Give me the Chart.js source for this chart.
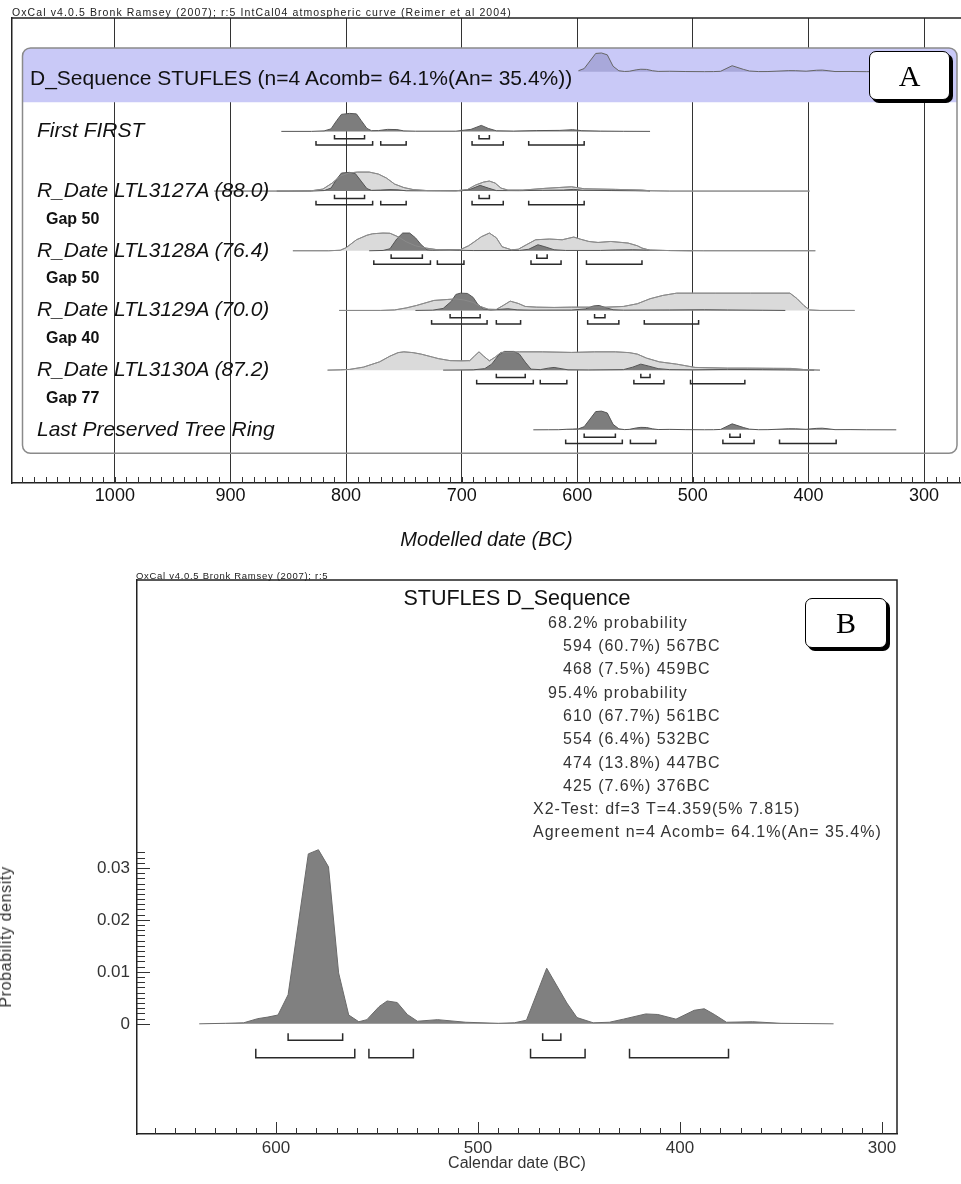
<!DOCTYPE html>
<html><head><meta charset="utf-8">
<script src="https://cdn.jsdelivr.net/npm/chart.js@4.4.0/dist/chart.umd.min.js"></script>
<style>
html,body{margin:0;padding:0;background:#fff;width:961px;height:1184px;overflow:hidden;}
body{position:relative;font-family:'Liberation Sans',Arial,sans-serif;}
canvas{position:absolute;left:0;}
#cA{top:0;} #cB{top:560px;}
.t{position:absolute;white-space:nowrap;color:#111;}
.row{font-size:21px;line-height:24px;font-style:italic;}
.seq{font-size:21px;line-height:24px;}
.gap{font-size:16px;line-height:20px;font-weight:bold;}
.hdr{font-size:10.5px;line-height:12px;letter-spacing:1.1px;color:#222;}
.hdrb{font-size:9.5px;line-height:12px;letter-spacing:0.7px;color:#222;}
.ttl{font-size:21.5px;line-height:24px;color:#111;}
.stat{font-size:16px;line-height:20px;letter-spacing:1px;color:#333;}
.ylab{font-size:16px;line-height:16px;letter-spacing:0.6px;color:#333;}
.box{position:absolute;box-sizing:border-box;background:#fff;border:1.5px solid #000;border-radius:7px;box-shadow:3px 3px 0 #000;font-family:'Liberation Serif','Times New Roman',serif;font-size:30px;display:flex;align-items:center;justify-content:center;color:#000;}
</style></head><body>
<canvas id="cA" width="961" height="560"></canvas>
<canvas id="cB" width="961" height="624"></canvas>
<div id="overlay"></div>
<script>
const FONT = "'Liberation Sans', Arial, sans-serif";
Chart.defaults.font.family = FONT;

// ================= DATA =================
const xTicksA = [1000, 900, 800, 700, 600, 500, 400, 300];
const xTicksB = [600, 500, 400, 300];
const yTicksB = [0, 0.01, 0.02, 0.03];
const yTickLabelsB = ['0', '0.01', '0.02', '0.03'];

const headerA = 'OxCal v4.0.5 Bronk Ramsey (2007); r:5 IntCal04 atmospheric curve (Reimer et al 2004)';
const headerB = 'OxCal v4.0.5 Bronk Ramsey (2007); r:5';
const sequenceTitle = 'D_Sequence STUFLES (n=4 Acomb= 64.1%(An= 35.4%))';
const rowLabels = ['First FIRST', 'R_Date LTL3127A (88.0)', 'R_Date LTL3128A (76.4)',
  'R_Date LTL3129A (70.0)', 'R_Date LTL3130A (87.2)', 'Last Preserved Tree Ring'];
const gapLabels = ['Gap 50', 'Gap 50', 'Gap 40', 'Gap 77'];
const titleB = 'STUFLES D_Sequence';
const statLines = ['68.2% probability', '594 (60.7%) 567BC', '468 (7.5%) 459BC', '95.4% probability',
  '610 (67.7%) 561BC', '554 (6.4%) 532BC', '474 (13.8%) 447BC', '425 (7.6%) 376BC',
  'X2-Test: df=3 T=4.359(5% 7.815)', 'Agreement n=4 Acomb= 64.1%(An= 35.4%)'];
const statIndent = [1, 2, 2, 1, 2, 2, 2, 2, 0, 0];

// D_Sequence posterior: [year BC, probability density]
const dseqPosterior = [[638,0],[625,0.0001],[616,0.0002],[609,0.001],[604,0.0013],[599,0.0017],[594,0.0056],
  [584,0.0327],[579,0.0335],[574,0.0302],[569,0.0098],[564,0.0017],[559,0.0004],[555,0.0008],[549,0.0033],
  [545,0.0044],[540,0.0041],[535,0.0018],[530,0.0005],[520,0.0008],[506,0.0003],[490,0.0001],[482,0.0002],
  [476,0.0007],[466,0.0107],[456,0.0040],[451,0.0012],[443,0.0002],[435,0.0003],[428,0.0009],[417,0.0019],
  [411,0.0018],[402,0.0009],[393,0.0026],[388,0.0029],[383,0.0018],[377,0.0003],[364,0.0004],[350,0.0001],[324,0]];

// Panel A rows: [year BC, relative probability (peak ~19)]
const firstPost = [[856,0],[830,0],[819,0.5],[813,2.5],[808,11],[804,17],[797,18],[791,17.5],[787,11],[782,3],
  [778,0.7],[772,0.8],[764,2],[756,1.8],[750,0.5],[740,0.2],[705,0.2],[692,2],[683,6],[677,3],[670,0.6],[655,0.3],
  [635,0.8],[615,1],[604,1.7],[596,0.7],[580,0.3],[560,0.1],[537,0]];
const r27Lik = [[914,0],[850,0],[830,0.3],[820,2],[812,8],[805,15],[798,18],[790,19],[780,19],[772,17],[765,13],
  [758,7],[750,3.5],[742,1.5],[730,0.5],[705,0.3],[695,1.5],[688,6],[681,9],[676,10],[671,8],[666,3],[660,1],
  [647,1],[628,2.7],[605,4.3],[594,2.3],[567,1.7],[544,1],[537,0.3],[520,0],[399,0]];
const r27Post = [[860,0],[830,0],[819,0.5],[813,3],[808,12],[804,18],[797,18.7],[792,17.5],[787,10],[782,2.5],
  [778,0.7],[770,1],[762,1.5],[755,1.2],[748,0.3],[730,0.2],[700,0.2],[692,2],[684,5.7],[677,3],[670,0.5],
  [650,0.4],[630,0.8],[612,1],[603,1.7],[595,0.8],[570,0.5],[550,0.3],[537,0]];
const r28Lik = [[846,0],[815,0],[805,0.5],[800,3],[791,11],[782,15.5],[777,17],[768,17.7],[762,17.5],[755,14],
  [748,9],[740,5],[731,2.7],[722,1.2],[712,1],[701,1.2],[694,5],[689,9],[683,14],[676,17.7],[670,13],[665,4],
  [657,1],[651,1.5],[644,6],[636,11],[624,11.7],[613,11],[603,13.7],[597,11.5],[590,9.3],[582,8.3],[571,9.3],
  [556,7.7],[548,5],[544,2.7],[537,0.5],[520,0.2],[491,0],[394,0]];
const r28Post = [[780,0],[768,0.3],[762,2],[756,12],[751,17.7],[745,17.7],[740,13],[735,6],[730,1],[725,0.5],
  [719,0.8],[710,1],[702,0.5],[690,0.2],[650,0.3],[642,1.5],[634,6],[628,4],[620,1],[610,0.3],[580,0.3],
  [567,0.8],[552,1],[540,0.7],[520,0.2],[500,0]];
const r29Lik = [[806,0],[770,0],[758,0.5],[748,2.5],[739,5],[730,8],[724,10],[712,11],[705,11.5],[698,10.5],
  [690,8],[684,4],[677,1.2],[670,1],[664,5],[658,9.3],[651,7],[645,4],[635,3.3],[620,3],[605,3.3],[590,3.3],
  [575,3.3],[560,4],[548,6.7],[537,11.7],[526,15],[514,17.3],[480,17.3],[450,17.3],[416,17.3],[410,12],[404,5],
  [399,0.5],[390,0],[360,0]];
const r29Post = [[740,0],[725,0.3],[716,2],[709,9],[705,16],[701,17.3],[695,17],[690,13],[686,6],[681,1.5],
  [675,0.5],[666,1.2],[660,1.7],[652,0.6],[640,0.3],[605,0.4],[593,1.5],[586,4.5],[581,5],[576,3],[569,0.7],
  [560,0.3],[520,0.5],[490,0.7],[470,0.5],[440,0.2],[420,0]];
const r30Lik = [[816,0],[805,0.3],[797,0.7],[785,3],[771,8.3],[762,14],[755,17.5],[750,18.3],[742,17.5],
  [735,16],[725,13],[720,11.5],[710,9.5],[700,9.3],[693,9.5],[689,14],[685,18.3],[681,14],[676,9.3],[671,13],
  [666,17.7],[650,18.3],[630,18.3],[605,17.7],[585,18.3],[567,18.3],[555,17.5],[548,16],[540,12],[529,8.3],
  [514,6],[498,2.7],[470,2],[453,2],[430,1.8],[415,1.7],[403,0.5],[390,0]];
const r30Post = [[716,0],[690,0.3],[680,1.5],[674,6],[668,15],[663,18.7],[655,18.7],[650,16],[645,8],[640,1],
  [632,0.5],[625,2],[620,2.7],[614,1.5],[608,0.3],[590,0.2],[560,0.5],[552,3],[545,6],[538,4],[530,1.5],
  [520,0.5],[500,0.3],[470,0.7],[440,0.5],[420,0.3],[395,0]];

// Highest posterior density ranges [from, to] BC
const first68 = [[810,784],[685,676]];
const first95 = [[826,777],[770,748],[691,664],[642,594]];
const r27_68 = [[810,784],[685,676]];
const r27_95 = [[826,777],[770,748],[691,664],[642,594]];
const r28_68 = [[761,734],[635,626]];
const r28_95 = [[776,727],[721,698],[640,614],[592,544]];
const r29_68 = [[710,684],[585,576]];
const r29_95 = [[726,678],[670,649],[591,564],[542,495]];
const r30_68 = [[670,645],[545,537]];
const r30_95 = [[687,638],[632,609],[551,525],[502,455]];
const seq68 = [[594,567],[468,459]];
const seq95 = [[610,561],[554,532],[474,447],[425,376]];

// ================= STYLE / LAYOUT =================
const ROWPX = 59.68;             // px per row
const K = 1 / ROWPX;             // row units per relative unit
const DSEQ_K = 18.7 / 0.0335;    // density -> relative units in panel A
const C_LIGHT = '#dadada', C_LIGHT_L = '#8e8e8e', C_DARK = '#7d7d7d', C_DARK_L = '#555';

function area(points, row, fillC, lineC, order, k) {
  const b = 6 - row; k = k || 1;
  return {data: points.map(p => ({x: p[0], y: b + p[1] * k * K})), fill: {value: b},
    backgroundColor: fillC, borderColor: lineC, borderWidth: 1, pointRadius: 0, tension: 0, order};
}
function outline(points, row, lineC, order) {
  const b = 6 - row;
  return {data: points.map(p => ({x: p[0], y: b + p[1] * K})), fill: false,
    borderColor: lineC, borderWidth: 1, pointRadius: 0, tension: 0, order};
}
function brackets(ranges, row, off, tick) {
  const b = 6 - row, yl = b - off * K, yt = b - (off - tick) * K, pts = [];
  ranges.forEach(([a, c]) => { pts.push({x:a,y:yt},{x:a,y:yl},{x:c,y:yl},{x:c,y:yt},{x:c,y:null}); });
  return {data: pts, fill: false, borderColor: '#2a2a2a', borderWidth: 1.5, pointRadius: 0, tension: 0, spanGaps: false, order: 0};
}
function rowBrackets(r68, r95, row) { return [brackets(r68, row, 7.4, 3.8), brackets(r95, row, 13.6, 4)]; }

const datasetsA = [
  area(dseqPosterior.filter(p => p[0] <= 600), 0, '#a8a8da', '#666', 3, DSEQ_K),
  area(firstPost, 1, C_DARK, C_DARK_L, 3),
  ...rowBrackets(first68, first95, 1),
  area(r27Lik, 2, C_LIGHT, C_LIGHT_L, 4), area(r27Post, 2, C_DARK, C_DARK_L, 3), outline(r27Lik, 2, '#8a8a8a', 2),
  ...rowBrackets(r27_68, r27_95, 2),
  area(r28Lik, 3, C_LIGHT, C_LIGHT_L, 4), area(r28Post, 3, C_DARK, C_DARK_L, 3), outline(r28Lik, 3, '#8a8a8a', 2),
  ...rowBrackets(r28_68, r28_95, 3),
  area(r29Lik, 4, C_LIGHT, C_LIGHT_L, 4), area(r29Post, 4, C_DARK, C_DARK_L, 3), outline(r29Lik, 4, '#8a8a8a', 2),
  ...rowBrackets(r29_68, r29_95, 4),
  area(r30Lik, 5, C_LIGHT, C_LIGHT_L, 4), area(r30Post, 5, C_DARK, C_DARK_L, 3), outline(r30Lik, 5, '#8a8a8a', 2),
  ...rowBrackets(r30_68, r30_95, 5),
  area(dseqPosterior, 6, C_DARK, C_DARK_L, 3, DSEQ_K),
  ...rowBrackets(seq68, seq95, 6)
];

const frameA = {
  id: 'frameA',
  beforeDatasetsDraw(chart) {
    const {ctx, scales: {y}} = chart;
    const b0 = y.getPixelForValue(6), b6 = y.getPixelForValue(0);
    const L = 22.5, R = 957, T = b0 - 23.7, B = b6 + 23.5, bandB = b0 + 30.5, rad = 8;
    ctx.save();
    ctx.beginPath(); ctx.roundRect(L, T, R - L, bandB - T, [rad, rad, 0, 0]);
    ctx.fillStyle = '#c9c9f7'; ctx.fill();
    ctx.beginPath(); ctx.roundRect(L, T, R - L, B - T, rad);
    ctx.strokeStyle = '#8a8a8a'; ctx.lineWidth = 1.5; ctx.stroke();
    ctx.restore();
  },
  afterDraw(chart) {
    const {ctx, chartArea: ca, scales: {x}} = chart;
    ctx.save();
    ctx.strokeStyle = '#222'; ctx.lineWidth = 1.5;
    ctx.beginPath(); ctx.moveTo(ca.left, ca.top); ctx.lineTo(ca.right, ca.top); ctx.stroke();
    ctx.strokeStyle = '#333'; ctx.lineWidth = 1; ctx.beginPath();
    for (let v = 1080; v >= 270; v -= 10) {
      const px = Math.round(x.getPixelForValue(v)) + 0.5;
      ctx.moveTo(px, ca.bottom); ctx.lineTo(px, ca.bottom - 6);
    }
    ctx.stroke(); ctx.restore();
  }
};

const chartA = new Chart(document.getElementById('cA'), {
  type: 'line',
  data: {datasets: datasetsA},
  options: {
    responsive: false, animation: false, events: [],
    layout: {padding: {top: 18, left: 0, right: 0, bottom: 0}},
    plugins: {legend: {display: false}, tooltip: {enabled: false}},
    scales: {
      x: {type: 'linear', min: 268, max: 1089, reverse: true, z: 1,
        afterBuildTicks: s => { s.ticks = xTicksA.map(v => ({value: v})); },
        afterFit: s => { s.height = 77; },
        grid: {color: '#333', lineWidth: 1, drawTicks: false},
        border: {color: '#222', width: 1.5},
        ticks: {font: {size: 18}, color: '#111', padding: 2, autoSkip: false, maxRotation: 0,
          callback: v => String(v)},
        title: {display: true, text: 'Modelled date (BC)', color: '#111',
          font: {size: 20, style: 'italic'}, padding: {top: 0, bottom: 8}}
      },
      y: {type: 'linear', min: -0.891, max: 6.8997,
        afterFit: s => { s.width = 12; },
        grid: {display: false, drawTicks: false},
        border: {display: true, color: '#222', width: 1.5},
        ticks: {display: false}
      }
    }
  },
  plugins: [frameA]
});

// ---------- Panel B ----------
const YB_OFF = 0.000192; // density per px
function bracketsB(ranges, offPx, tickPx) {
  const yl = -offPx * YB_OFF, yt = -(offPx - tickPx) * YB_OFF, pts = [];
  ranges.forEach(([a, c]) => { pts.push({x:a,y:yt},{x:a,y:yl},{x:c,y:yl},{x:c,y:yt},{x:c,y:null}); });
  return {data: pts, fill: false, borderColor: '#2a2a2a', borderWidth: 1.5, pointRadius: 0, tension: 0, spanGaps: false, order: 0};
}
const frameB = {
  id: 'frameB',
  afterDraw(chart) {
    const {ctx, chartArea: ca, scales: {x, y}} = chart;
    ctx.save();
    ctx.strokeStyle = '#222'; ctx.lineWidth = 1.5;
    ctx.beginPath(); ctx.moveTo(ca.left, ca.top); ctx.lineTo(ca.right, ca.top); ctx.lineTo(ca.right, ca.bottom); ctx.stroke();
    ctx.strokeStyle = '#333'; ctx.lineWidth = 1; ctx.beginPath();
    for (let v = 660; v >= 300; v -= 10) {
      const px = Math.round(x.getPixelForValue(v)) + 0.5, len = v % 100 === 0 ? 12 : 6;
      ctx.moveTo(px, ca.bottom); ctx.lineTo(px, ca.bottom - len);
    }
    for (let i = 0; i <= 33; i++) {
      const py = Math.round(y.getPixelForValue(i / 1000)) + 0.5, len = i % 10 === 0 ? 13 : 8;
      ctx.moveTo(ca.left, py); ctx.lineTo(ca.left + len, py);
    }
    ctx.stroke(); ctx.restore();
  }
};
const chartB = new Chart(document.getElementById('cB'), {
  type: 'line',
  data: {datasets: [
    {data: dseqPosterior.map(p => ({x: p[0], y: p[1]})), fill: 'origin', backgroundColor: '#808080',
     borderColor: '#6a6a6a', borderWidth: 1, pointRadius: 0, tension: 0, order: 2},
    bracketsB(seq68, 16.5, 7), bracketsB(seq95, 34, 9)
  ]},
  options: {
    responsive: false, animation: false, events: [],
    layout: {padding: {top: 20, left: 0, right: 64, bottom: 0}},
    plugins: {legend: {display: false}, tooltip: {enabled: false}},
    scales: {
      x: {type: 'linear', min: 292.6, max: 668.8, reverse: true,
        afterBuildTicks: s => { s.ticks = xTicksB.map(v => ({value: v})); },
        afterFit: s => { s.height = 50; },
        grid: {display: false, drawTicks: false},
        border: {color: '#222', width: 1.5},
        ticks: {font: {size: 17}, color: '#333', padding: 4, autoSkip: false, maxRotation: 0,
          callback: v => String(v)},
        title: {display: true, text: 'Calendar date (BC)', color: '#333', font: {size: 16}, padding: {top: 0, bottom: 11}}
      },
      y: {type: 'linear', min: -0.0212, max: 0.0854,
        afterBuildTicks: s => { s.ticks = yTicksB.map(v => ({value: v})); },
        afterFit: s => { s.width = 137; },
        grid: {display: false, drawTicks: false},
        border: {color: '#222', width: 1.5},
        ticks: {font: {size: 17}, color: '#333', padding: 7,
          callback: v => yTickLabelsB[yTicksB.indexOf(v)]}
      }
    }
  },
  plugins: [frameB]
});

// ---------- Text overlays ----------
const ov = document.getElementById('overlay');
function addText(txt, cls, left, top, extra) {
  const d = document.createElement('div'); d.className = 't ' + cls; d.textContent = txt;
  d.style.left = left + 'px'; d.style.top = top + 'px';
  if (extra) Object.assign(d.style, extra);
  ov.appendChild(d); return d;
}
const yA = chartA.scales.y;
addText(headerA, 'hdr', 12, 6.4);
addText(sequenceTitle, 'seq', 30, yA.getPixelForValue(6) + 6.3 - 11.75);
rowLabels.forEach((t, i) => addText(t, 'row', 37, yA.getPixelForValue(5 - i) - 1.2 - 11.75));
gapLabels.forEach((t, i) => addText(t, 'gap', 46, yA.getPixelForValue(4 - i) + 27.3 - 9.8));
const boxA = document.createElement('div'); boxA.className = 'box'; boxA.textContent = 'A';
Object.assign(boxA.style, {left: '869px', top: '51px', width: '81px', height: '49px'}); ov.appendChild(boxA);

addText(headerB, 'hdrb', 136, 569.7);
addText(titleB, 'ttl', 517, 586, {transform: 'translateX(-50%)'});
const indentX = [533, 548, 563];
statLines.forEach((t, i) => addText(t, 'stat', indentX[statIndent[i]], 622.5 + 23.3 * i - 9.8));
addText('Probability density', 'ylab', 6, 937, {transform: 'translate(-50%,-50%) rotate(-90deg)'});
const boxB = document.createElement('div'); boxB.className = 'box'; boxB.textContent = 'B';
Object.assign(boxB.style, {left: '805px', top: '598px', width: '82px', height: '50px'}); ov.appendChild(boxB);
</script>
</body></html>
